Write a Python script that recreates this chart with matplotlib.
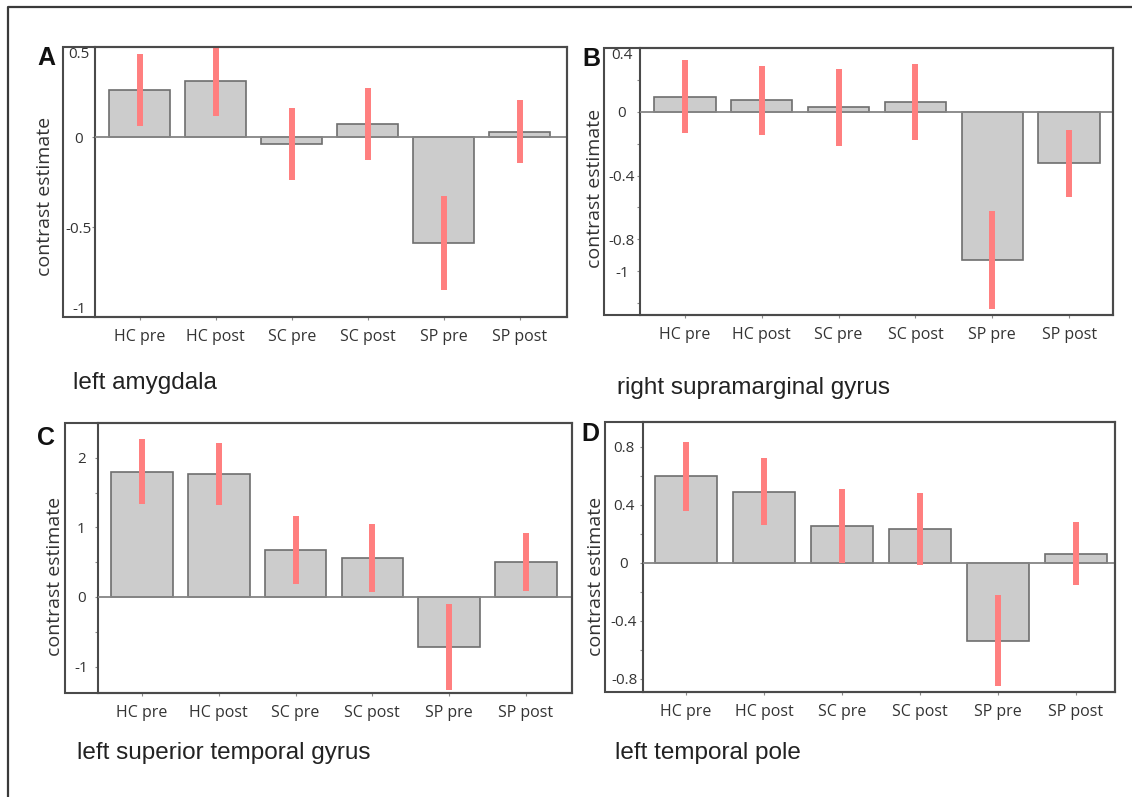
import matplotlib
matplotlib.use("Agg")
import matplotlib.pyplot as plt
from matplotlib.patches import Rectangle
from matplotlib.lines import Line2D
from matplotlib.ticker import MultipleLocator

# ---- data -------------------------------------------------------------
conditions = ["HC pre", "HC post", "SC pre", "SC post", "SP pre", "SP post"]

amygdala_mean = [0.26, 0.31, -0.04, 0.07, -0.59, 0.03]
amygdala_err = [0.20, 0.195, 0.20, 0.20, 0.26, 0.175]

supramarginal_mean = [0.095, 0.072, 0.027, 0.062, -0.93, -0.323]
supramarginal_err = [0.23, 0.218, 0.24, 0.24, 0.305, 0.21]

stg_mean = [1.80, 1.765, 0.676, 0.561, -0.72, 0.499]
stg_err = [0.465, 0.45, 0.49, 0.49, 0.62, 0.42]

temporal_pole_mean = [0.597, 0.491, 0.254, 0.235, -0.537, 0.065]
temporal_pole_err = [0.24, 0.23, 0.253, 0.247, 0.315, 0.215]

panel_letters = ["A", "B", "C", "D"]
region_names = ["left amygdala", "right supramarginal gyrus",
                "left superior temporal gyrus", "left temporal pole"]

amygdala_ticks = [-1, -0.5, 0, 0.5]
supramarginal_ticks = [-1.0, -0.8, -0.4, 0, 0.4]
stg_ticks = [-1, 0, 1, 2]
temporal_pole_ticks = [-0.8, -0.4, 0, 0.4, 0.8]

# ---- styling ----------------------------------------------------------
W, H = 1132, 797
BAR_FACE = "#cccccc"
BAR_EDGE = "#6e6e6e"
ERR_COLOR = "#ff7f7f"
SPINE = "#4a4a4a"
TEXT = "#333333"

fig = plt.figure(figsize=(W / 100, H / 100), dpi=100)


def fx(x):
    return x / W


def fy(y):
    return 1 - y / H


def fmt(v):
    return f"{v:g}"


panels = [
    dict(mean=amygdala_mean, err=amygdala_err, ticks=amygdala_ticks,
         minor=None, ylim=(-1.0, 0.5), xlim=(-0.59, 5.62),
         box=(95, 567, 47, 317), outer=63,
         letter_xy=(46, 58), title_xy=(73, 383), ylabel_xy=(45, 196),
         clamp_top=True, clamp_bottom=True),
    dict(mean=supramarginal_mean, err=supramarginal_err, ticks=supramarginal_ticks,
         minor=0.2, ylim=(-1.275, 0.394), xlim=(-0.59, 5.57),
         box=(639.5, 1113, 48, 315), outer=604,
         letter_xy=(591, 59), title_xy=(617, 388), ylabel_xy=(595, 188),
         clamp_top=True, clamp_bottom=False),
    dict(mean=stg_mean, err=stg_err, ticks=stg_ticks,
         minor=0.5, ylim=(-1.38, 2.5), xlim=(-0.58, 5.6),
         box=(97.5, 572, 423, 693), outer=65,
         letter_xy=(46, 438), title_xy=(77, 753), ylabel_xy=(55, 576),
         clamp_top=False, clamp_bottom=False),
    dict(mean=temporal_pole_mean, err=temporal_pole_err, ticks=temporal_pole_ticks,
         minor=0.2, ylim=(-0.89, 0.972), xlim=(-0.55, 5.5),
         box=(643, 1115, 422, 692), outer=605,
         letter_xy=(590, 434), title_xy=(615, 753), ylabel_xy=(596, 576),
         clamp_top=False, clamp_bottom=False),
]

x = list(range(len(conditions)))

for letter, name, p in zip(panel_letters, region_names, panels):
    left, right, top, bottom = p["box"]
    ax = fig.add_axes([fx(left), fy(bottom), fx(right - left), (bottom - top) / H])

    ax.bar(x, p["mean"], width=0.8, color=BAR_FACE, edgecolor=BAR_EDGE,
           linewidth=1.2, zorder=2)
    ax.axhline(0, color="#858585", linewidth=1.3, zorder=3)
    lo = [m - e for m, e in zip(p["mean"], p["err"])]
    hi = [m + e for m, e in zip(p["mean"], p["err"])]
    ax.vlines(x, lo, hi, color=ERR_COLOR, linewidth=4.3, zorder=4)

    ax.set_xlim(*p["xlim"])
    ax.set_ylim(*p["ylim"])
    ax.set_xticks(x, conditions)
    ax.set_yticks(p["ticks"], [fmt(t) for t in p["ticks"]])
    if p["minor"]:
        ax.yaxis.set_minor_locator(MultipleLocator(p["minor"]))

    # tick labels sit centred in the label strip to the left of the plot
    strip_pts = ((left - p["outer"]) / 2) * 72 / 100
    ax.tick_params(axis="y", which="both", direction="out", length=2.2,
                   width=0.8, color="#8a8a8a")
    ax.tick_params(axis="y", which="major", pad=strip_pts - 2.2,
                   labelsize=11, labelcolor=TEXT)
    ax.tick_params(axis="x", direction="out", length=2.5, width=0.8,
                   color="#8a8a8a", pad=6, labelsize=11.5, labelcolor=TEXT)
    for lab in ax.get_yticklabels():
        lab.set_horizontalalignment("center")
        lab.set_fontfamily("Open Sans")
    for lab in ax.get_xticklabels():
        lab.set_fontfamily("Open Sans")
    ylabels = ax.get_yticklabels()
    if p["clamp_top"]:
        ylabels[-1].set_verticalalignment("top")
    if p["clamp_bottom"]:
        ylabels[0].set_verticalalignment("bottom")

    for s in ax.spines.values():
        s.set_color(SPINE)
        s.set_linewidth(1.5)

    # outer frame that encloses the tick-label strip
    fig.add_artist(Rectangle((fx(p["outer"]), fy(bottom)),
                             fx(right - p["outer"]), (bottom - top) / H,
                             transform=fig.transFigure, fill=False,
                             edgecolor=SPINE, linewidth=1.5, zorder=5))

    lx, ly = p["letter_xy"]
    fig.text(fx(lx), fy(ly), letter, ha="center", va="center",
             fontsize=18, fontweight="bold", family="Liberation Sans",
             color="#111111")
    tx, ty = p["title_xy"]
    fig.text(fx(tx), fy(ty), name, ha="left", va="center",
             fontsize=17.5, family="Liberation Sans", color="#222222")
    yx, yy = p["ylabel_xy"]
    fig.text(fx(yx), fy(yy), "contrast estimate", rotation=90,
             ha="center", va="center", fontsize=14, family="Open Sans",
             color=TEXT)

# figure frame (left and top edges)
fig.add_artist(Line2D([fx(8), fx(8), 1.0], [0.0, fy(7), fy(7)],
                      transform=fig.transFigure, color="#3a3a3a", linewidth=1.6))

fig.savefig("out.png", dpi=100, facecolor="white")
